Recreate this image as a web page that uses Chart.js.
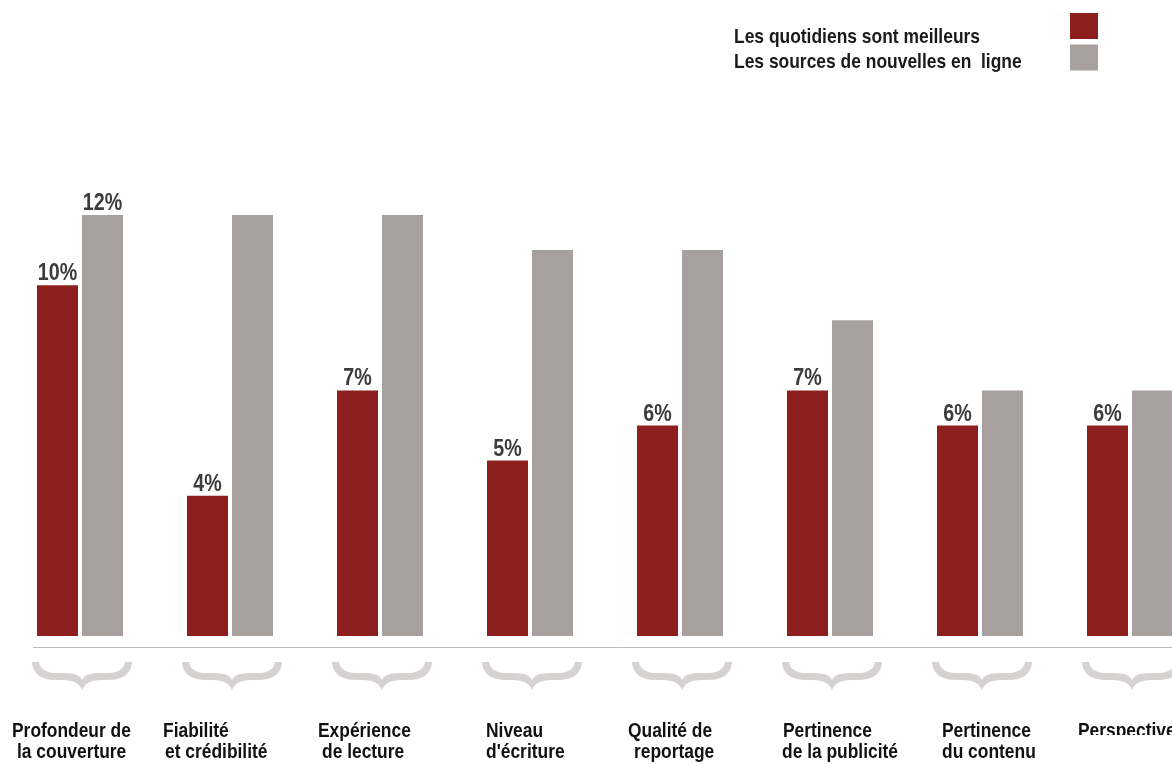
<!DOCTYPE html>
<html lang="fr">
<head>
<meta charset="utf-8">
<title>Quotidiens et nouvelles en ligne</title>
<script src="https://cdn.jsdelivr.net/npm/chart.js@4/dist/chart.umd.min.js"></script>
<style>
  html, body { margin: 0; padding: 0; background: #fff; overflow: hidden; }
  #wrap { position: relative; width: 1210px; height: 764px; }
</style>
</head>
<body>
<div id="wrap">
  <canvas id="newsChart" width="1210" height="764"></canvas>
</div>
<script>
    // Chart data
    const categories = [
        ['Profondeur de', 'la couverture'],
        ['Fiabilité', 'et crédibilité'],
        ['Expérience', 'de lecture'],
        ['Niveau', "d'écriture"],
        ['Qualité de', 'reportage'],
        ['Pertinence', 'de la publicité'],
        ['Pertinence', 'du contenu'],
        ['Perspectives', '']
    ];
    const dailyValues = [10, 4, 7, 5, 6, 7, 6, 6];
    const onlineValues = [12, 12, 12, 11, 11, 9, 7, 7];
    // which bars carry a value label
    const dailyLabelled = [true, true, true, true, true, true, true, true];
    const onlineLabelled = [true, false, false, false, false, false, false, false];

    const RED = '#8c1f1e';
    const GREY = '#a8a09e';
    const FONT = '"Liberation Sans", Arial, sans-serif';

    // left edge of each label line, relative to the category centre
    const labelShift = [[-68, -63], [-67, -65], [-62, -58], [-44, -44],
                        [-52, -46], [-47, -48], [-38, -38], [-52, -52]];

    // narrow text: squeeze a regular face horizontally
    function narrowText(ctx, text, x, y, sx, align) {
        ctx.save();
        ctx.translate(x, y);
        ctx.scale(sx, 1);
        ctx.textAlign = align;
        ctx.fillText(text, 0, 0);
        ctx.restore();
    }

    // Value labels above bars
    const valueLabels = {
        id: 'valueLabels',
        afterDatasetsDraw(chart) {
            const ctx = chart.ctx;
            const flags = [dailyLabelled, onlineLabelled];
            ctx.save();
            ctx.font = 'bold 24px ' + FONT;
            ctx.fillStyle = '#3c3c3a';
            ctx.textBaseline = 'alphabetic';
            chart.data.datasets.forEach((ds, i) => {
                chart.getDatasetMeta(i).data.forEach((bar, j) => {
                    if (!flags[i][j]) return;
                    narrowText(ctx, ds.data[j] + '%', bar.x, bar.y - 5, 0.82, 'center');
                });
            });
            ctx.restore();
        }
    };

    // Base rule, curly braces and category names under the bars
    const axisDecor = {
        id: 'axisDecor',
        afterDraw(chart) {
            const ctx = chart.ctx;
            const x = chart.scales.x;
            const area = chart.chartArea;
            ctx.save();
            ctx.strokeStyle = '#bdb8b7';
            ctx.lineWidth = 1;
            ctx.beginPath();
            ctx.moveTo(33, area.bottom + 11.5);
            ctx.lineTo(chart.width, area.bottom + 11.5);
            ctx.stroke();

            const top = area.bottom + 26;
            ctx.fillStyle = '#d6d2d1';
            for (let i = 0; i < categories.length; i++) {
                const c = x.getPixelForValue(i) + 2;
                ctx.beginPath();
                ctx.moveTo(c - 50, top);
                ctx.quadraticCurveTo(c - 49, top + 19, c - 22, top + 18);
                ctx.quadraticCurveTo(c - 4, top + 17, c, top + 28);
                ctx.quadraticCurveTo(c + 4, top + 17, c + 22, top + 18);
                ctx.quadraticCurveTo(c + 49, top + 19, c + 50, top);
                ctx.lineTo(c + 43, top);
                ctx.quadraticCurveTo(c + 41, top + 12, c + 22, top + 11);
                ctx.quadraticCurveTo(c + 3, top + 10, c, top + 18);
                ctx.quadraticCurveTo(c - 3, top + 10, c - 22, top + 11);
                ctx.quadraticCurveTo(c - 41, top + 12, c - 43, top);
                ctx.closePath();
                ctx.fill();
            }

            ctx.font = 'bold 20px ' + FONT;
            ctx.fillStyle = '#111';
            ctx.textBaseline = 'alphabetic';
            const base = area.bottom + 101;
            for (let i = 0; i < categories.length; i++) {
                const c = x.getPixelForValue(i);
                ctx.save();
                if (i === categories.length - 1) {
                    ctx.beginPath();
                    ctx.rect(0, 0, chart.width, base - 2);
                    ctx.clip();
                }
                categories[i].forEach((line, k) => {
                    narrowText(ctx, line, c + labelShift[i][k], base + k * 21, 0.87, 'left');
                });
                ctx.restore();
            }
            ctx.restore();
        }
    };

    // Legend: text on the left, colour box on the right
    const sideLegend = {
        id: 'sideLegend',
        afterDraw(chart) {
            const ctx = chart.ctx;
            ctx.save();
            ctx.font = 'bold 21px ' + FONT;
            ctx.fillStyle = '#1a1a1a';
            ctx.textBaseline = 'alphabetic';
            chart.data.datasets.forEach((ds, i) => {
                narrowText(ctx, ds.label, 734, 43 + i * 25, 0.83, 'left');
                ctx.fillStyle = ds.backgroundColor;
                ctx.fillRect(1070, 13 + i * 31.5, 28, 26);
                ctx.fillStyle = '#1a1a1a';
            });
            ctx.restore();
        }
    };

    const ctx = document.getElementById('newsChart').getContext('2d');

    const newsChart = new Chart(ctx, {
        type: 'bar',
        data: {
            labels: categories.map(c => c.join(' ')),
            datasets: [
                {
                    label: 'Les quotidiens sont meilleurs',
                    data: dailyValues,
                    backgroundColor: RED,
                    categoryPercentage: 0.6,
                    barPercentage: 0.911
                },
                {
                    label: 'Les sources de nouvelles en  ligne',
                    data: onlineValues,
                    backgroundColor: GREY,
                    categoryPercentage: 0.6,
                    barPercentage: 0.911
                }
            ]
        },
        options: {
            responsive: false,
            animation: false,
            layout: {
                padding: { top: 215, left: 5, right: 5, bottom: 128 }
            },
            plugins: {
                legend: { display: false },
                tooltip: { enabled: false }
            },
            scales: {
                x: { display: false },
                y: { display: false, min: 0, max: 12 }
            }
        },
        plugins: [valueLabels, axisDecor, sideLegend]
    });
</script>
</body>
</html>
